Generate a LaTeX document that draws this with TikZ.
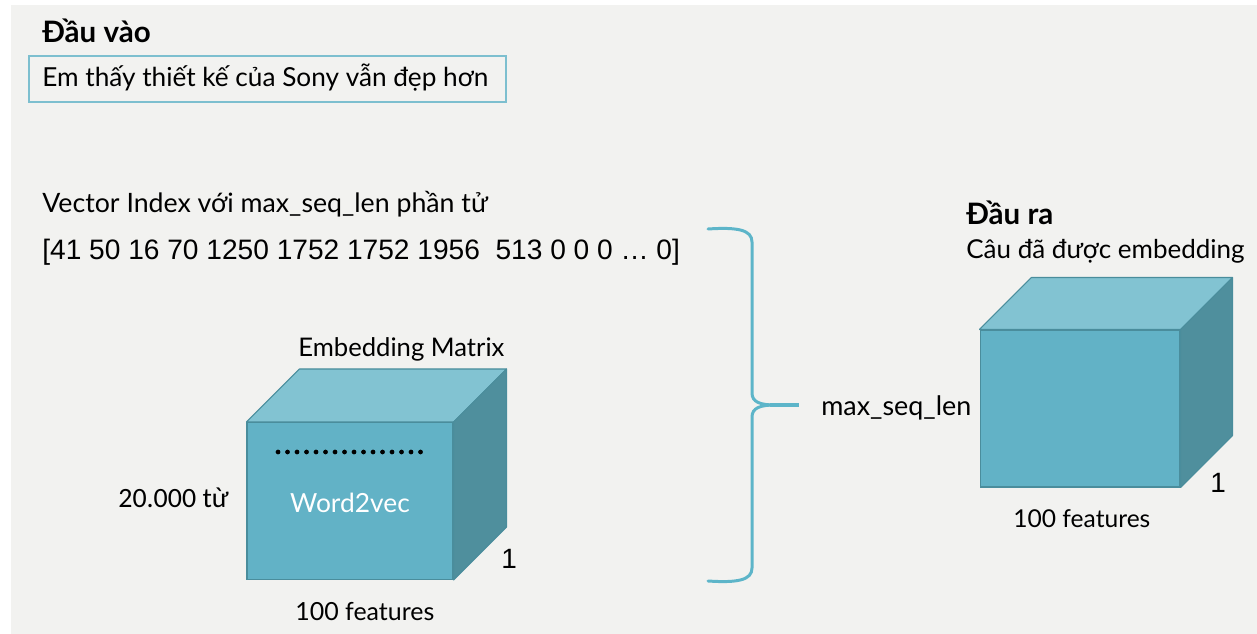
\documentclass[tikz,border=0pt]{standalone}
\usepackage{fontspec}
\setmainfont{Lato}
\newfontfamily\arialfont{Liberation Sans}
\newfontfamily\calfont{Carlito}
\usepackage{xcolor}

\definecolor{slide}{HTML}{F2F2F0}
\definecolor{frontc}{HTML}{62B2C6}
\definecolor{topc}{HTML}{82C3D2}
\definecolor{sidec}{HTML}{4F8F9D}
\definecolor{edgec}{HTML}{4A8D9C}
\definecolor{bracec}{HTML}{5DB5C9}
\definecolor{boxc}{HTML}{7DBFCF}

\begin{document}
\begin{tikzpicture}[
    x=0.02cm, y=-0.02cm,
    lbl/.style={anchor=base west, inner sep=0pt, font=\fontsize{15}{18}\selectfont},
    head/.style={anchor=base west, inner sep=0pt, font=\bfseries\fontsize{16.8}{19}\selectfont},
    front/.style={draw=edgec, line width=0.6pt, fill=frontc, inner sep=0pt, minimum height=3.14cm},
    face/.style={draw=edgec, line width=0.6pt, line join=round},
    brace/.style={draw=bracec, line width=1.7pt, line cap=round}
  ]
    % slide background
    \useasboundingbox (0,0) rectangle (1257,634);
    \fill[white] (0,0) rectangle (1257,634);
    \fill[slide] (11,5) rectangle (1257,634);

    % input sentence
    \node[head] (inlbl) at (42,43) {Đầu vào};
    \node[lbl, font=\fontsize{14.9}{17}\selectfont] (intext) at (42,87) {Em thấy thiết kế của Sony vẫn đẹp hơn};
    \draw[boxc, line width=1.1pt] (29,56) rectangle (506,102);

    % index vector
    \node[lbl, font=\fontsize{15.2}{18}\selectfont] (veclbl) at (42,213) {Vector Index với max\_seq\_len phần tử};
    \node[lbl, font=\arialfont\fontsize{16}{18}\selectfont] (vecval) at (42,260) {[41 50 16 70 1250 1752 1752 1956\ \ 513 0 0 0 … 0]};

    % embedding matrix cube
    \node[front, minimum width=4.12cm] (embfront) at (350,501) {};
    \filldraw[face, fill=topc] (embfront.north west) -- ([shift={(53,-53)}]embfront.north west)
      -- ([shift={(53,-53)}]embfront.north east) -- (embfront.north east) -- cycle;
    \filldraw[face, fill=sidec] (embfront.north east) -- ([shift={(53,-53)}]embfront.north east)
      -- ([shift={(53,-53)}]embfront.south east) -- (embfront.south east) -- cycle;
    \foreach \i in {0,...,15}
      \fill (278+\i*9.5,452) circle (1.35pt);
    \node[white, inner sep=0pt, anchor=base, font=\fontsize{15}{18}\selectfont] (w2v) at (350,512) {Word2vec};
    \node[lbl, font=\fontsize{14.6}{18}\selectfont] (embtitle) at (298,357) {Embedding Matrix};
    \node[lbl, font=\calfont\fontsize{15.9}{18}\selectfont] (rows) at (118,507) {20.000 từ};
    \node[lbl, font=\arialfont\fontsize{15.9}{18}\selectfont] (depthL) at (501,568) {1};
    \node[lbl, font=\fontsize{14.2}{18}\selectfont] (featL) at (295,620) {100 features};

    % brace over the sequence
    \coordinate (brtop) at (708,229);
    \coordinate (brtip) at (799,405);
    \coordinate (brbot) at (708,581);
    \draw[brace] (brtop) .. controls (738,227) and (752,230) .. (752,242) -- (752,393)
      .. controls (752,402) and (760,405) .. (775,405);
    \draw[brace] (brbot) .. controls (738,583) and (752,580) .. (752,568) -- (752,417)
      .. controls (752,408) and (760,405) .. (775,405);
    \draw[brace, line width=2.6pt, line cap=butt] (770,405) -- (brtip);
    \node[lbl, font=\fontsize{15.3}{18}\selectfont] (seqlen) at (821,416) {max\_seq\_len};

    % embedded sentence cube
    \node[front, minimum width=4.0cm] (outfront) at (1080,408.5) {};
    \filldraw[face, fill=topc] (outfront.north west) -- ([shift={(52,-52)}]outfront.north west)
      -- ([shift={(52,-52)}]outfront.north east) -- (outfront.north east) -- cycle;
    \filldraw[face, fill=sidec] (outfront.north east) -- ([shift={(52,-52)}]outfront.north east)
      -- ([shift={(52,-52)}]outfront.south east) -- (outfront.south east) -- cycle;
    \node[head] (outlbl) at (966,225) {Đầu ra};
    \node[lbl, font=\fontsize{14.8}{18}\selectfont] (outdesc) at (966,259) {Câu đã được embedding};
    \node[lbl, font=\arialfont\fontsize{15.9}{18}\selectfont] (depthR) at (1210,492) {1};
    \node[lbl, font=\fontsize{14}{18}\selectfont] (featR) at (1013,527) {100 features};
  \end{tikzpicture}
\end{document}
